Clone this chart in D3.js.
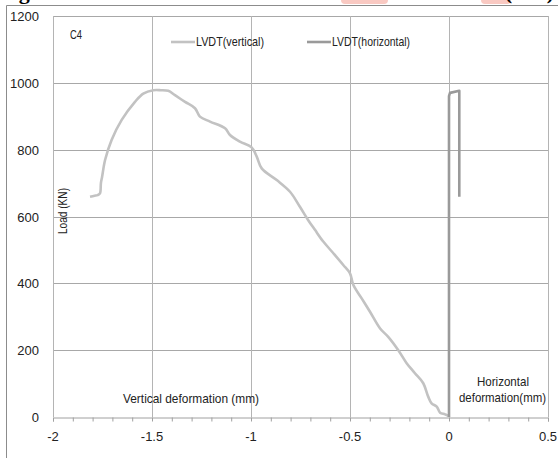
<!DOCTYPE html>
<html><head><meta charset="utf-8">
<script src="https://cdn.jsdelivr.net/npm/d3@7"></script>
<style>body{margin:0;background:#fff}svg{display:block}</style>
</head><body>
<svg id="c" width="558" height="458"></svg>
<script>
const vertX = [-1.813,-1.790,-1.775,-1.763,-1.758,-1.752,-1.737,-1.704,-1.653,-1.586,-1.544,-1.493,-1.455,-1.418,-1.384,-1.333,-1.283,-1.258,-1.207,-1.131,-1.106,-1.056,-0.997,-0.971,-0.946,-0.870,-0.803,-0.753,-0.711,-0.677,-0.635,-0.584,-0.534,-0.500,-0.483,-0.441,-0.399,-0.348,-0.307,-0.256,-0.214,-0.172,-0.130,-0.105,-0.088,-0.062,-0.045,-0.020,-0.003,0];
const vertY = [659,662,664,669,700,719,769,829,889,943,968,978,978,976,963,943,924,899,884,864,844,824,807,779,744,709,674,629,589,560,525,490,455,430,395,355,315,265,240,200,161,131,101,61,41,31,13,8,3,0];
const horX = [0,0,0.005,0.052,0.052];
const horY = [0,960,970,976,659];
const xTicks = [-2,-1.5,-1,-0.5,0,0.5];
const yTicks = [0,200,400,600,800,1000,1200];
const seriesNames = ["LVDT(vertical)","LVDT(horizontal)"];

const svg = d3.select("#c");
const F = "'Liberation Sans',Arial,sans-serif";
const x = d3.scaleLinear().domain([-2,0.5]).range([53,548]);
const y = d3.scaleLinear().domain([0,1200]).range([417,16]);

function txt(sx, sy, s, w, opts={}) {
  const t = svg.append("text").attr("x",sx).attr("y",sy).attr("font-family",F)
    .attr("font-size",opts.size||13).attr("fill","#222").attr("text-anchor",opts.anchor||"start").text(s);
  if (w) t.attr("textLength",w).attr("lengthAdjust","spacingAndGlyphs");
  return t;
}

// partially visible caption of the page above
svg.append("rect").attr("x",341).attr("y",-4).attr("width",47).attr("height",8).attr("rx",4).attr("fill","#f9c9c2");
svg.append("rect").attr("x",481).attr("y",-4).attr("width",30).attr("height",8).attr("rx",4).attr("fill","#f9c9c2");
svg.append("text").attr("x",-6).attr("y",-1).attr("textLength",560).attr("lengthAdjust","spacing")
  .attr("font-family","'Liberation Serif','Times New Roman',serif").attr("font-weight","bold").attr("font-size",22)
  .attr("fill","#000").text("Fig. 7: Load vs sub deformation of column (C4)");

// outer frame
svg.append("path").attr("d","M6.5,458 V5.5 H558").attr("fill","none").attr("stroke","#8c8c8c").attr("stroke-width",1);

// gridlines
svg.append("g").selectAll("line").data(yTicks.filter(d=>d>0)).join("line")
  .attr("x1",x(-2)).attr("x2",x(0.5)).attr("y1",d=>Math.round(y(d))+0.5).attr("y2",d=>Math.round(y(d))+0.5)
  .attr("stroke","#a8a8a8").attr("stroke-width",1);
svg.append("g").selectAll("line").data(xTicks).join("line")
  .attr("y1",y(0)).attr("y2",y(1200)).attr("x1",d=>Math.round(x(d))+0.5).attr("x2",d=>Math.round(x(d))+0.5)
  .attr("stroke","#b4b4b4").attr("stroke-width",1);

// x axis with minor ticks
const xAxis = d3.axisBottom(x).tickValues(d3.range(-20,6).map(i=>i/10)).tickSize(4).tickFormat("");
const gx = svg.append("g").attr("transform",`translate(0,${Math.round(y(0))+0.5})`).call(xAxis);
gx.select(".domain").attr("stroke","#a0a0a0");
gx.selectAll(".tick line").attr("stroke","#a0a0a0");

// tick labels
svg.append("g").selectAll("text").data(xTicks).join("text")
  .attr("x",d=>x(d)).attr("y",441).attr("text-anchor","middle")
  .attr("font-family",F).attr("font-size",13).attr("fill","#222").text(d=>String(d));
svg.append("g").selectAll("text").data(yTicks).join("text")
  .attr("x",39).attr("y",d=>y(d)+5).attr("text-anchor","end")
  .attr("font-family",F).attr("font-size",13).attr("fill","#222").text(d=>String(d));

// series
const line = d3.line().x(d=>x(d[0])).y(d=>y(d[1])).curve(d3.curveCatmullRom.alpha(0.5));
svg.append("path").datum(vertX.map((v,i)=>[v,vertY[i]])).attr("d",line)
  .attr("fill","none").attr("stroke","#c2c2c2").attr("stroke-width",2.6).attr("stroke-linejoin","round");
const line2 = d3.line().x(d=>x(d[0])).y(d=>y(d[1]));
svg.append("path").datum(horX.map((v,i)=>[v,horY[i]])).attr("d",line2)
  .attr("fill","none").attr("stroke","#9a9a9a").attr("stroke-width",2.6).attr("stroke-linejoin","round");

// legend
const lg = [{x:171,c:"#c2c2c2",w:68},{x:307,c:"#9a9a9a",w:78}];
lg.forEach((l,i)=>{
  svg.append("line").attr("x1",l.x).attr("x2",l.x+24).attr("y1",42).attr("y2",42).attr("stroke",l.c).attr("stroke-width",2.6);
  txt(l.x+25, 46, seriesNames[i], l.w);
});

// annotations
txt(70, 39, "C4", 12, {size:12});
svg.append("text").attr("transform","translate(67,211) rotate(-90)").attr("text-anchor","middle")
  .attr("font-family",F).attr("font-size",12).attr("fill","#222")
  .attr("textLength",46).attr("lengthAdjust","spacingAndGlyphs").text("Load  (KN)");
txt(123, 403, "Vertical deformation  (mm)", 136);
txt(477, 386, "Horizontal", 52);
txt(459, 402, "deformation(mm)", 87);
</script>
</body></html>
